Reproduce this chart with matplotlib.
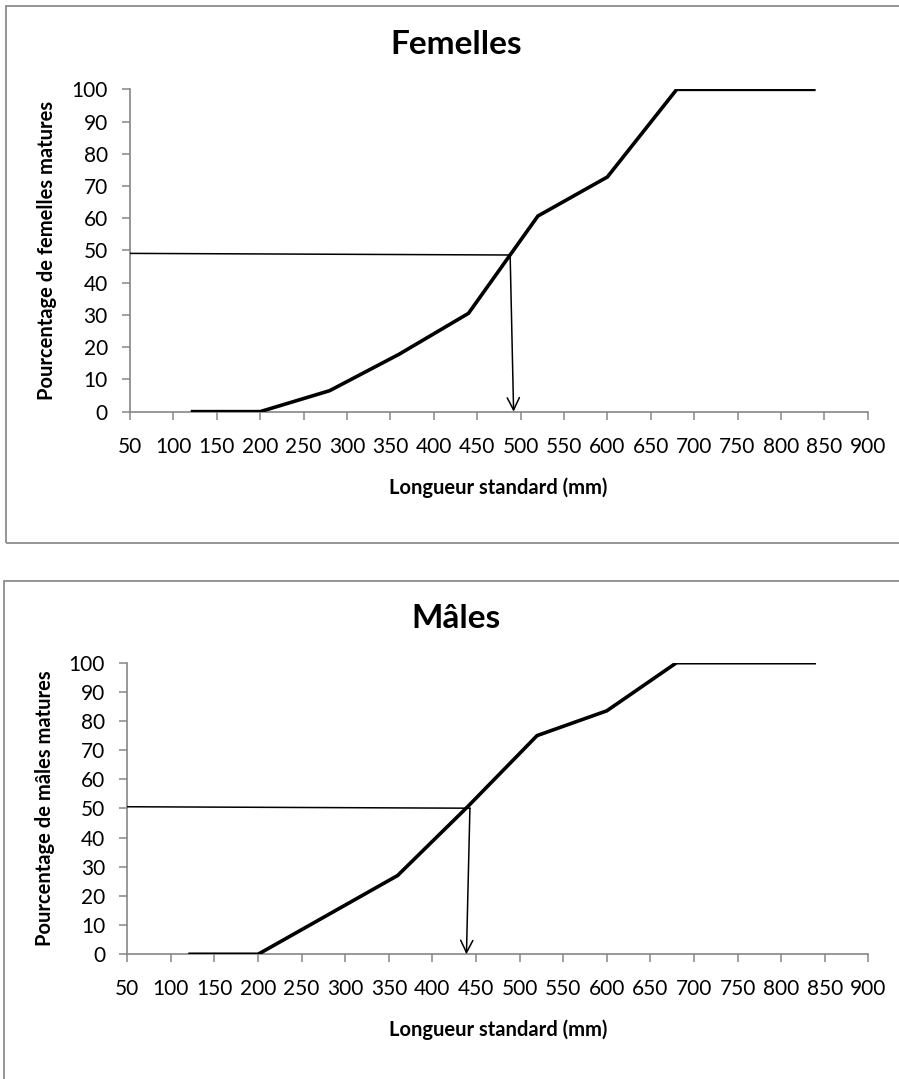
import matplotlib
matplotlib.use("Agg")
import matplotlib.pyplot as plt
from matplotlib.patches import Rectangle

plt.rcParams['font.family'] = ['Lato', 'DejaVu Sans']

# données
longueur = [120, 200, 280, 360, 440, 520, 600, 680, 760, 840]
femelles = [0, 0, 6.5, 17.8, 30.5, 60.7, 72.8, 100, 100, 100]
males = [0, 0, 13.5, 27, 50.5, 75, 83.5, 100, 100, 100]

# lecture de la L50 (ligne horizontale puis flèche)
fem_l50 = [(50, 49.1), (488, 48.6), (492, 0)]
mal_l50 = [(50, 50.6), (443, 50.1), (439, 0)]

xticks = list(range(50, 901, 50))
yticks = list(range(0, 101, 10))

panels = [
    ("Femelles", "Pourcentage de femelles matures", femelles, fem_l50,
     [0.1446, 0.6185, 0.8206, 0.2987]),
    ("Mâles", "Pourcentage de mâles matures", males, mal_l50,
     [0.1416, 0.1156, 0.8243, 0.2702]),
]

fig = plt.figure(figsize=(8.99, 10.79), dpi=100)

# cadres des graphiques (coupés à droite / en bas comme dans l'original)
W, H = 899, 1079
fig.patches.append(Rectangle((6 / W, 1 - 543 / H), 1.0, (543 - 6) / H,
                             transform=fig.transFigure, fill=False,
                             edgecolor="#8c8c8c", lw=1.3, clip_on=False))
fig.patches.append(Rectangle((4 / W, -0.1), 1.0, 0.1 + (1079 - 581) / H,
                             transform=fig.transFigure, fill=False,
                             edgecolor="#8c8c8c", lw=1.3, clip_on=False))

title_y = [1 - 45 / H, 1 - 618 / H]
xlabel_y = [1 - 488 / H, 1 - 1030 / H]
ylabel_x = [47 / W, 45 / W]

gray = "#868686"
for i, (title, ylab, vals, l50, pos) in enumerate(panels):
    ax = fig.add_axes(pos)
    ax.plot(longueur, vals, color="black", lw=2.6, solid_joinstyle="miter",
            solid_capstyle="butt", zorder=3)
    ax.plot([l50[0][0], l50[1][0]], [l50[0][1], l50[1][1]], color="black",
            lw=1.1, zorder=4)
    ax.annotate("", xy=l50[2], xytext=l50[1],
                arrowprops=dict(arrowstyle="->", lw=1.1, color="black",
                                mutation_scale=22, shrinkA=0, shrinkB=0),
                zorder=4)

    ax.set_xlim(50, 900)
    ax.set_ylim(0, 100)
    ax.set_xticks(xticks)
    ax.set_yticks(yticks)
    ax.tick_params(axis="both", direction="out", length=6, width=1.1,
                   color=gray, labelsize=15)
    ax.tick_params(axis="y", pad=10)
    ax.tick_params(axis="x", pad=12)
    for side in ("top", "right"):
        ax.spines[side].set_visible(False)
    for side in ("left", "bottom"):
        ax.spines[side].set_color(gray)
        ax.spines[side].set_linewidth(1.2)

    fig.text(0.507, title_y[i], title, ha="center", va="center",
             fontsize=24, fontweight="bold")
    fig.text(0.5545, xlabel_y[i], "Longueur standard (mm)", ha="center",
             va="center", fontsize=14.5, fontweight="bold")
    fig.text(ylabel_x[i], pos[1] + pos[3] / 2, ylab, rotation=90,
             ha="center", va="center", fontsize=14.5, fontweight="bold")

fig.savefig("out.png", dpi=100)
